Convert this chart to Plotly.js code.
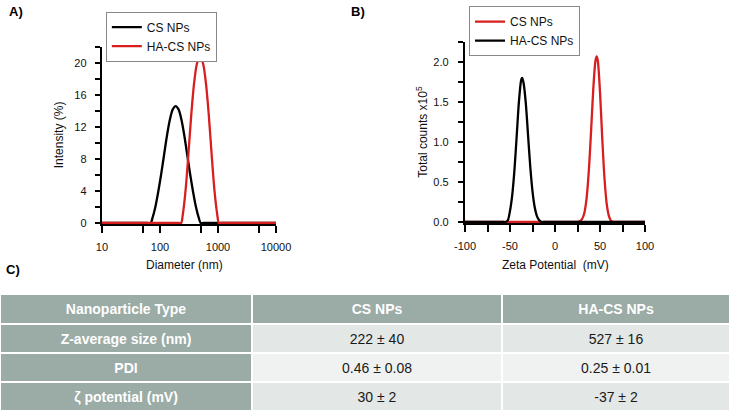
<!DOCTYPE html>
<html>
<head>
<meta charset="utf-8">
<script src="https://cdn.plot.ly/plotly-3.0.1.min.js"></script>
<style>
  html, body { margin: 0; padding: 0; background: #fff; }
  #chart { width: 730px; height: 412px; }
</style>
</head>
<body>
<div id="chart"></div>
<script>
// Panel A: DLS size distribution (intensity % vs diameter, log axis)
const diamCS = [10, 60, 69.2, 74.1, 83.2, 93.3, 104.7, 117.5, 131.8, 147.9, 166.0, 186.2,
  208.9, 234.4, 263.0, 295.1, 331.1, 371.5, 416.9, 467.7, 501.2, 560, 10000];
const intCS = [0, 0, 0, 0.6, 2.0, 3.9, 6.1, 8.5, 10.9, 12.9, 14.2, 14.6,
  14.2, 12.9, 10.9, 8.5, 6.1, 3.9, 2.0, 0.6, 0, 0, 0];
const diamHA = [10, 210, 231.7, 245.5, 275.4, 309.0, 346.7, 389.0, 436.5, 489.8,
  549.5, 616.6, 691.8, 776.2, 871.0, 977.2, 1035, 1150, 10000];
const intHA = [0, 0, 0, 0.9, 4.0, 8.6, 13.6, 17.6, 20.0, 20.7,
  20.0, 17.6, 13.6, 8.6, 4.0, 0.9, 0, 0, 0];

// Panel B: zeta potential distribution (counts x1e5)
const zetaCS = [-100, 20, 22.5, 25, 27.5, 30, 32.5, 35, 37.5, 40, 42.5, 45, 46.3,
  47.5, 50, 52.5, 55, 57.5, 60, 62.5, 65, 67.5, 100];
const cntCS = [0, 0, 0, 0.002, 0.01, 0.035, 0.11, 0.29, 0.63, 1.12, 1.66, 2.02, 2.07,
  2.02, 1.62, 1.04, 0.54, 0.22, 0.07, 0.01, 0, 0, 0];
const zetaHA = [-100, -57.5, -55, -52.5, -50, -47.5, -45, -42.5, -40, -37.5, -36.5,
  -35, -32.5, -30, -27.5, -25, -22.5, -20, -17.5, -15, -12.5, 100];
const cntHA = [0, 0, 0, 0.02, 0.14, 0.34, 0.66, 1.09, 1.52, 1.78, 1.80,
  1.74, 1.49, 1.09, 0.69, 0.38, 0.18, 0.07, 0.02, 0, 0, 0];

// Tick labels
const aXTicks = [10, 50, 100, 500, 1000, 5000, 10000];
const aXText = ['10', '', '100', '', '1000', '', '10000'];
const aYTicks = [0, 2, 4, 6, 8, 10, 12, 14, 16, 18, 20, 22];
const aYText = ['0', '', '4', '', '8', '', '12', '', '16', '', '20', ''];
const bXTicks = [-100, -75, -50, -25, 0, 25, 50, 75, 100];
const bXText = ['-100', '', '-50', '', '0', '', '50', '', '100'];
const bYTicks = [0, 0.25, 0.5, 0.75, 1.0, 1.25, 1.5, 1.75, 2.0, 2.25];
const bYText = ['0.0', '', '0.5', '', '1.0', '', '1.5', '', '2.0', ''];

// Panel C: table
const tableHeader = ['Nanoparticle Type', 'CS NPs', 'HA-CS NPs'];
const rowLabels = ['Z-average size (nm)', 'PDI', 'ζ potential (mV)'];
const valuesCS = ['222 ± 40', '0.46 ± 0.08', '30 ± 2'];
const valuesHA = ['527 ± 16', '0.25 ± 0.01', '-37 ± 2'];

const RED = '#d81e1e';
const BLACK = '#000000';
const GREY = '#9baba6';
const ROW_A = '#e3e7e5';
const ROW_B = '#f0f2f1';
const FONT = 'Liberation Sans, Arial, sans-serif';

// table grid: column edges and row edges in table-axis units (px-like)
const COL_EDGES = [0, 252, 502, 730];
const ROW_EDGES = [0, 30, 59, 88, 117];

function curve(x, y, name, color, xa, ya, legend) {
  return {
    x, y, name, xaxis: xa, yaxis: ya, legend,
    type: 'scatter', mode: 'lines',
    line: { color, width: 2.3, shape: 'spline', smoothing: 0.8 },
    hoverinfo: 'skip',
  };
}

function axisBase(extra) {
  return Object.assign({
    showline: true, linecolor: '#000', linewidth: 2.2,
    ticks: 'outside', tickwidth: 2, tickcolor: '#000',
    showgrid: false, zeroline: false, layer: 'below traces',
    tickfont: { size: 11, color: '#111' }, tickmode: 'array',
  }, extra);
}

// table rows -> two heatmap layers (grey label cells, light data cells)
const tableRows = [tableHeader].concat(rowLabels.map((l, i) => [l, valuesCS[i], valuesHA[i]]));
const isLabel = (i, j) => i === 0 || j === 0;
const greyZ = tableRows.map((r, i) => r.map((c, j) => (isLabel(i, j) ? 1 : null)));
const greyText = tableRows.map((r, i) => r.map((c, j) => (isLabel(i, j) ? `<b>${c}</b>` : '')));
const lightZ = tableRows.map((r, i) => r.map((c, j) => (isLabel(i, j) ? null : (i % 2 ? 0 : 1))));
const lightText = tableRows.map((r, i) => r.map((c, j) => (isLabel(i, j) ? '' : c)));

function tableLayer(z, text, scale, color) {
  return {
    type: 'heatmap', x: COL_EDGES, y: ROW_EDGES, z, text,
    texttemplate: '%{text}',
    textfont: { family: FONT, size: 14, color },
    colorscale: scale, zmin: 0, zmax: 1, showscale: false,
    xgap: 2, ygap: 2, xaxis: 'x3', yaxis: 'y3', hoverinfo: 'skip',
  };
}

const traces = [
  curve(diamCS, intCS, 'CS NPs', BLACK, 'x', 'y', 'legend'),
  curve(diamHA, intHA, 'HA-CS NPs', RED, 'x', 'y', 'legend'),
  curve(zetaCS, cntCS, 'CS NPs', RED, 'x2', 'y2', 'legend2'),
  curve(zetaHA, cntHA, 'HA-CS NPs', BLACK, 'x2', 'y2', 'legend2'),
  tableLayer(greyZ, greyText, [[0, GREY], [1, GREY]], '#ffffff'),
  tableLayer(lightZ, lightText, [[0, ROW_A], [1, ROW_B]], '#1a1a1a'),
];

function label(text, x, y, opts) {
  return Object.assign({
    text, x, y, xref: 'paper', yref: 'paper', showarrow: false,
    xanchor: 'center', yanchor: 'middle',
    font: { family: FONT, size: 12, color: '#111' },
  }, opts);
}

const legendBase = {
  xanchor: 'left', yanchor: 'top', bgcolor: '#fff',
  bordercolor: '#888', borderwidth: 1,
  font: { family: FONT, size: 12, color: '#111' },
  itemwidth: 30, tracegroupgap: 0,
};

const panelFont = { family: FONT, size: 13, color: '#000' };

const layout = {
  width: 730, height: 412,
  margin: { l: 0, r: 0, t: 0, b: 0 },
  paper_bgcolor: '#fff', plot_bgcolor: '#fff',
  font: { family: FONT, size: 11, color: '#111' },
  xaxis: axisBase({
    type: 'log', range: [1, 4], domain: [0.1397, 0.3781], anchor: 'y',
    tickvals: aXTicks, ticktext: aXText, ticklen: 7, ticklabelstandoff: 4,
  }),
  yaxis: axisBase({
    range: [-0.15, 22], domain: [0.4558, 0.8859], anchor: 'x',
    tickvals: aYTicks, ticktext: aYText, ticklen: 5, ticklabelstandoff: 6,
  }),
  xaxis2: axisBase({
    range: [-100, 100], domain: [0.637, 0.8836], anchor: 'y2',
    tickvals: bXTicks, ticktext: bXText, ticklen: 7, ticklabelstandoff: 4,
  }),
  yaxis2: axisBase({
    range: [-0.015, 2.25], domain: [0.4583, 0.8981], anchor: 'x2',
    tickvals: bYTicks, ticktext: bYText, ticklen: 5, ticklabelstandoff: 7,
  }),
  xaxis3: { domain: [0, 1], range: [0, 730], anchor: 'y3', visible: false, fixedrange: true },
  yaxis3: { domain: [0.0024, 0.2864], range: [117, 0], anchor: 'x3', visible: false, fixedrange: true },
  legend: Object.assign({ x: 0.145, y: 0.972 }, legendBase),
  legend2: Object.assign({ x: 0.6425, y: 0.985 }, legendBase),
  annotations: [
    label('<b>A)</b>', 0.01, 0.973, { xanchor: 'left', font: panelFont }),
    label('<b>B)</b>', 0.478, 0.973, { xanchor: 'left', font: panelFont }),
    label('<b>C)</b>', 0.006, 0.347, { xanchor: 'left', font: panelFont }),
    label('Diameter (nm)', 0.2534, 0.357),
    label('Zeta Potential\u00a0 (mV)', 0.7616, 0.357),
    label('Intensity (%)', 0.081, 0.672, { textangle: -90 }),
    label('Total counts x10<sup>5</sup>', 0.578, 0.68, { textangle: -90 }),
  ],
  showlegend: true,
};

Plotly.newPlot('chart', traces, layout, { displayModeBar: false, staticPlot: true });
</script>
</body>
</html>
